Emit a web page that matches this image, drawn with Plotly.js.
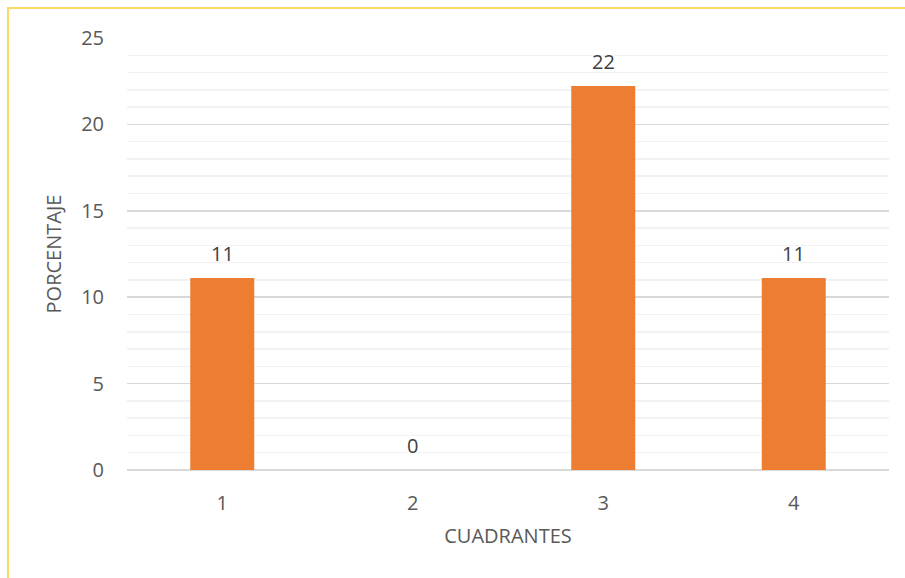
<!DOCTYPE html>
<html>
<head>
<meta charset="utf-8">
<script src="https://cdn.plot.ly/plotly-3.0.1.min.js"></script>
<style>
  html, body { margin: 0; padding: 0; background: #fff; overflow: hidden; }
  #wrap { position: relative; width: 905px; height: 578px; }
  #chart { position: absolute; left: 0; top: 0; width: 905px; height: 578px; }
  #frame { position: absolute; left: 7px; top: 7px; width: 1000px; height: 1000px;
           border: 2px solid #FFD966; box-sizing: border-box; pointer-events: none; }
</style>
</head>
<body>
<div id="wrap">
  <div id="chart"></div>
  <div id="frame"></div>
</div>
<script>
const categories = ['1', '2', '3', '4'];
const values = [11.11, 0, 22.22, 11.11];
const labels = ['11', '0', '22', '11'];
const yTickVals = [0, 5, 10, 15, 20, 25];
const xTitle = 'CUADRANTES';
const yTitle = 'PORCENTAJE';

const FONT = 'Open Sans, Noto Sans, sans-serif';
const FS = 20;

const trace = {
  type: 'bar',
  x: categories,
  y: values,
  marker: { color: '#ED7D31' },
  hoverinfo: 'skip'
};

const annotations = categories.map((c, i) => ({
  x: i, y: values[i], xref: 'x', yref: 'y',
  text: labels[i], showarrow: false,
  yanchor: 'middle', yshift: 25,
  font: { family: FONT, size: FS, color: '#404040' }
}));

const layout = {
  width: 905, height: 578,
  margin: { l: 127, r: 16, t: 38, b: 108 },
  paper_bgcolor: '#ffffff', plot_bgcolor: '#ffffff',
  showlegend: false,
  bargap: 0.664,
  font: { family: FONT, size: FS, color: '#595959' },
  xaxis: {
    type: 'category',
    range: [-0.5, 3.5], autorange: false,
    showgrid: false, zeroline: false, showline: false,
    ticks: '', ticklabelstandoff: 19,
    tickfont: { family: FONT, size: FS, color: '#595959' },
    title: { text: xTitle, standoff: 13, font: { family: FONT, size: FS, color: '#595959' } }
  },
  yaxis: {
    range: [0, 25], autorange: false,
    tickvals: yTickVals,
    showgrid: true, gridcolor: '#D9D9D9', gridwidth: 1.5,
    minor: { dtick: 1, showgrid: true, gridcolor: '#F2F2F2', gridwidth: 1.5, ticks: '' },
    zeroline: true, zerolinecolor: '#D9D9D9', zerolinewidth: 1.5,
    showline: false, ticks: '', ticklabelstandoff: 22,
    tickfont: { family: FONT, size: FS, color: '#595959' },
    title: { text: yTitle, standoff: 14, font: { family: FONT, size: FS, color: '#595959' } }
  },
  annotations: annotations
};

Plotly.newPlot('chart', [trace], layout, { displayModeBar: false, staticPlot: true });
</script>
</body>
</html>
